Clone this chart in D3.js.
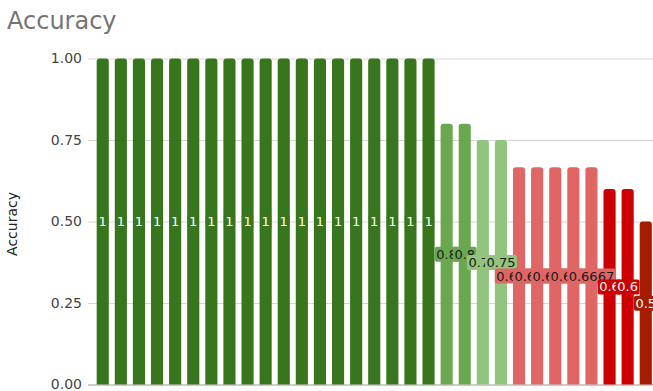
<!DOCTYPE html>
<html>
<head>
<meta charset="utf-8">
<script src="https://cdn.jsdelivr.net/npm/d3@7"></script>
<style>
  html, body { margin: 0; padding: 0; background: #fff; }
  svg { display: block; font-family: "DejaVu Sans", sans-serif; }
</style>
</head>
<body>
<div id="chart"></div>
<script>
// bar categories (the x labels are cropped out of the picture)
var categories = ["1", "2", "3", "4", "5", "6", "7", "8", "9", "10",
                  "11", "12", "13", "14", "15", "16", "17", "18", "19", "20",
                  "21", "22", "23", "24", "25", "26", "27", "28", "29", "30", "31"];

var accuracy = [1, 1, 1, 1, 1, 1, 1, 1, 1, 1,
                1, 1, 1, 1, 1, 1, 1, 1, 1,
                0.8, 0.8, 0.75, 0.75,
                0.6667, 0.6667, 0.6667, 0.6667, 0.6667,
                0.6, 0.6, 0.5];

var yTicks = [0, 0.25, 0.5, 0.75, 1];

// colour of a bar depends on its value
var colorValues = [1, 0.8, 0.75, 0.6667, 0.6, 0.5];
var barColors   = ["#38761d", "#6aa84f", "#93c47d", "#e06666", "#cc0000", "#a61c00"];
var labelColors = ["#ffffff", "#1a1a1a", "#1a1a1a", "#1a1a1a", "#ffffff", "#ffffff"];

var width = 653,
    height = 391;

var plotLeft = 88,
    bandStart = 93.7,
    step = 18.1;

var svg = d3.select("#chart").append("svg")
    .attr("width", width)
    .attr("height", height);

var data = categories.map((c, i) => ({ name: c, value: accuracy[i] }));

var x = d3.scaleBand()
    .domain(categories)
    .range([bandStart, bandStart + categories.length * step])
    .paddingInner(0.33)
    .paddingOuter(0.165);

var y = d3.scaleLinear()
    .domain([0, 1])
    .range([384.5, 58.5]);

var fill = d3.scaleOrdinal(colorValues, barColors);
var textFill = d3.scaleOrdinal(colorValues, labelColors);

// title
svg.append("text")
    .attr("x", 7)
    .attr("y", 29)
    .attr("font-size", "24px")
    .attr("fill", "#757575")
    .text("Accuracy");

// y axis label
svg.append("text")
    .attr("transform", "translate(17," + 224 + ") rotate(-90)")
    .attr("text-anchor", "middle")
    .attr("font-size", "14px")
    .attr("fill", "#222")
    .text("Accuracy");

// y axis with gridlines
var yAxis = svg.append("g")
    .attr("class", "yAxis")
    .attr("transform", "translate(" + plotLeft + ",0)")
    .call(d3.axisLeft(y)
        .tickValues(yTicks)
        .tickFormat(d3.format(".2f"))
        .tickSizeInner(-(width - plotLeft))
        .tickSizeOuter(0)
        .tickPadding(6));

yAxis.select(".domain").remove();
yAxis.selectAll(".tick line")
    .attr("stroke", (d) => d === 0 ? "#9a9a9a" : "#d6d6d6");
yAxis.selectAll(".tick text")
    .attr("font-family", "DejaVu Sans, sans-serif")
    .attr("font-size", "14px")
    .attr("fill", "#444");

// bars with rounded tops
var r = 3;
function barPath(d) {
    var x0 = x(d.name), w = x.bandwidth(), top = y(d.value), bottom = y(0);
    return "M" + x0 + "," + bottom +
        "V" + (top + r) +
        "Q" + x0 + "," + top + " " + (x0 + r) + "," + top +
        "H" + (x0 + w - r) +
        "Q" + (x0 + w) + "," + top + " " + (x0 + w) + "," + (top + r) +
        "V" + bottom + "Z";
}

svg.append("g").selectAll("path")
    .data(data)
    .enter()
    .append("path")
    .attr("d", barPath)
    .attr("fill", (d) => fill(d.value));

// value labels in the middle of each bar, each one over the one before
var label = svg.append("g").selectAll("g")
    .data(data)
    .enter()
    .append("g")
    .attr("transform", (d) => "translate(" + (x(d.name) + x.bandwidth() / 2) + "," + y(d.value / 2) + ")");

label.append("text")
    .attr("text-anchor", "middle")
    .attr("dy", "0.36em")
    .attr("font-size", "13px")
    .attr("fill", (d) => textFill(d.value))
    .text((d) => String(d.value));

label.each(function (d) {
    var g = d3.select(this);
    var bb = g.select("text").node().getBBox();
    g.insert("rect", "text")
        .attr("x", bb.x - 1.5)
        .attr("y", bb.y)
        .attr("width", bb.width + 3)
        .attr("height", bb.height)
        .attr("rx", 2)
        .attr("fill", fill(d.value));
});
</script>
</body>
</html>
